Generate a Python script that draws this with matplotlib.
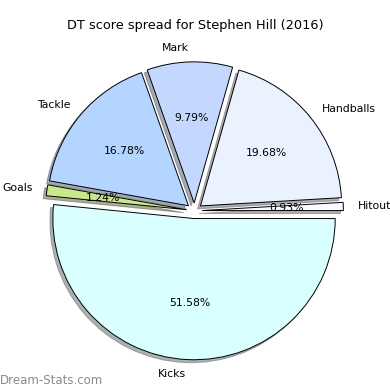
import matplotlib
matplotlib.use("Agg")
import matplotlib.pyplot as plt

labels = ["Hitout", "Handballs", "Mark", "Tackle", "Goals", "Kicks"]
values = [0.93, 19.68, 9.79, 16.78, 1.24, 51.58]
colors = ["#f8fbff", "#eaf1ff", "#c4d8ff", "#b3d5ff", "#c8e88a", "#d9ffff"]
title = "DT score spread for Stephen Hill (2016)"
watermark = "Dream-Stats.com"

fig = plt.figure(figsize=(3.9, 3.9), dpi=100)
ax = fig.add_axes([0.046, 0.007, 0.905, 0.905])
ax.pie(values, labels=labels, colors=colors, explode=[0.055] * len(values),
       autopct="%.2f%%", startangle=0,
       shadow={"ox": -0.015, "oy": -0.015, "shade": 0.6},
       wedgeprops=dict(edgecolor="black", linewidth=0.7),
       textprops=dict(fontsize=7.8))
ax.set_aspect("equal")
fig.text(0.5, 0.935, title, ha="center", va="center", fontsize=9.3)
fig.text(0.0, 0.025, watermark, ha="left", va="center", fontsize=8.5,
         color="#8a8a8a")
fig.savefig("out.png", dpi=100)
